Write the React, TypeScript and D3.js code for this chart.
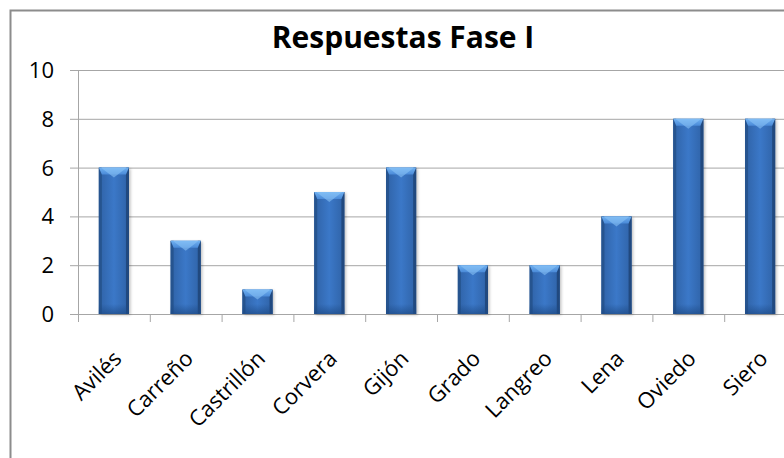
import React from "react";
import * as d3 from "d3";

const categories = ["Avilés", "Carreño", "Castrillón", "Corvera", "Gijón", "Grado", "Langreo", "Lena", "Oviedo", "Siero"];
const values = [6, 3, 1, 5, 6, 2, 2, 4, 8, 8];
const yTicks = [0, 2, 4, 6, 8, 10];
const title = "Respuestas Fase I";

export default function App() {
  const W = 784, H = 458;
  const x0 = 78, step = 71.8;
  const x = d3.scaleBand<string>().domain(categories).range([x0, x0 + step * categories.length]).paddingInner(0.58).paddingOuter(0.29);
  const y = d3.scaleLinear().domain([0, 10]).range([314, 70]);
  const font = "'Open Sans', Lato, sans-serif";
  const bw = x.bandwidth();
  return (
    <svg width={W} height={H} style={{ position: "absolute", left: 0, top: 0, background: "#fff" }} fontFamily={font}>
      <defs>
        <linearGradient id="barG" x1="0" x2="1" y1="0" y2="0">
          <stop offset="0" stopColor="#2f62a6" />
          <stop offset="0.5" stopColor="#3b78c8" />
          <stop offset="1" stopColor="#2f62a6" />
        </linearGradient>
        <linearGradient id="topG" x1="0" x2="0" y1="0" y2="1">
          <stop offset="0" stopColor="#6fb0f0" />
          <stop offset="1" stopColor="#4a8ad8" />
        </linearGradient>
        <linearGradient id="botG" x1="0" x2="0" y1="0" y2="1">
          <stop offset="0" stopColor="#1d4a86" stopOpacity="0" />
          <stop offset="1" stopColor="#1d4a86" stopOpacity="0.7" />
        </linearGradient>
        <filter id="sh" x="-20%" y="-20%" width="140%" height="140%">
          <feGaussianBlur stdDeviation="1.5" />
        </filter>
      </defs>
      <rect x={10.5} y={10.5} width={800} height={500} fill="none" stroke="#8c8c8c" strokeWidth={2} />
      <text x={403} y={48} textAnchor="middle" fontSize={30} fontWeight="bold" fill="#000">{title}</text>
      {yTicks.map((t) => (
        <g key={t}>
          <line x1={70} x2={W} y1={y(t) + 0.5} y2={y(t) + 0.5} stroke="#a6a6a6" strokeWidth={1} />
          <text x={54} y={y(t) + 8} textAnchor="end" fontSize={22} fill="#000">{t}</text>
        </g>
      ))}
      <line x1={x0 + 0.5} x2={x0 + 0.5} y1={70} y2={314} stroke="#a6a6a6" />
      {categories.map((c, i) => (
        <line key={"t" + c} x1={x0 + step * i + 0.5} x2={x0 + step * i + 0.5} y1={314} y2={322} stroke="#a6a6a6" />
      ))}
      {categories.map((c, i) => {
        const bx = x(c)!;
        const top = y(values[i]);
        const bot = y(0);
        const bev = Math.min(7, (bot - top) / 3);
        const s = 3;
        return (
          <g key={c}>
            <rect x={bx + 1.5} y={top + 1} width={bw} height={bot - top} fill="#000" opacity={0.25} filter="url(#sh)" />
            <rect x={bx} y={top} width={bw} height={bot - top} fill="url(#barG)" />
            <rect x={bx} y={top} width={s} height={bot - top} fill="#26548f" />
            <rect x={bx + bw - s} y={top} width={s} height={bot - top} fill="#21497f" />
            <rect x={bx} y={bot - 10} width={bw} height={10} fill="url(#botG)" />
            <polygon points={`${bx},${top} ${bx + bw},${top} ${bx + bw - s},${top + bev} ${bx + s},${top + bev}`} fill="url(#topG)" />
            <polygon points={`${bx + 2},${top} ${bx + bw - 2},${top} ${bx + bw / 2},${top + bev + 3}`} fill="#8ec6f8" opacity={0.55} />
          </g>
        );
      })}
      {categories.map((c, i) => {
        const cx = x(c)! + bw / 2 + 9;
        return (
          <text key={"l" + c} transform={`translate(${cx},${360}) rotate(-45)`} textAnchor="end" fontSize={22} fill="#000">{c}</text>
        );
      })}
    </svg>
  );
}
